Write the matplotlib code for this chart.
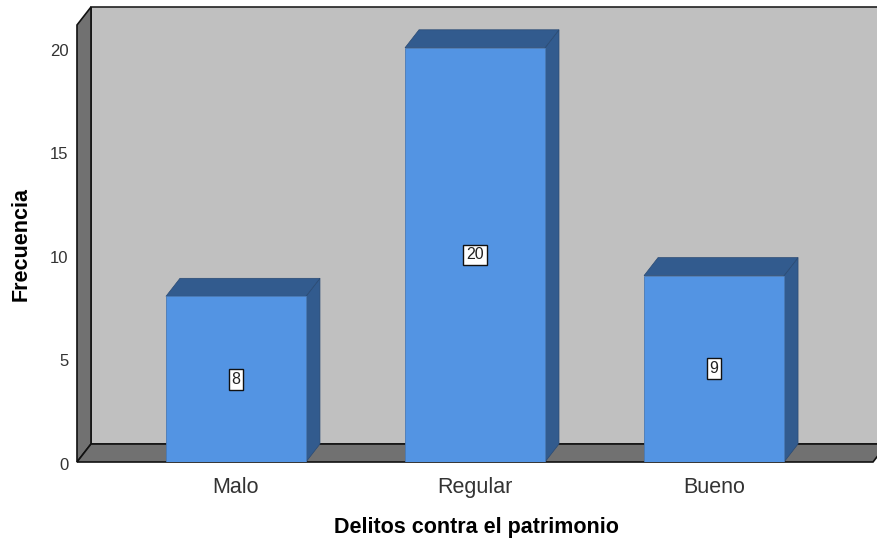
import matplotlib
matplotlib.use("Agg")
import matplotlib.pyplot as plt
from matplotlib.patches import Polygon
import matplotlib.transforms as mtransforms

categories = ["Malo", "Regular", "Bueno"]
values = [8, 20, 9]
yticks = [0, 5, 10, 15, 20]
xlabel = "Delitos contra el patrimonio"
ylabel = "Frecuencia"

plt.rcParams['font.family'] = ['Liberation Sans', 'DejaVu Sans']

W, H = 877, 541
fig = plt.figure(figsize=(W / 100, H / 100), dpi=100)
# front plane of the 3D box in pixels
px_left, px_right, px_top, px_bottom = 77, 873, 25, 462
ax = fig.add_axes([px_left / W, (H - px_bottom) / H,
                   (px_right - px_left) / W, (px_bottom - px_top) / H])
x0, x1 = -0.665, 2.665
ymax = 21.1
ax.set_xlim(x0, x1)
ax.set_ylim(0, ymax)

px_per_x = (px_right - px_left) / (x1 - x0)
px_per_y = (px_bottom - px_top) / ymax
dx = 14 / px_per_x
dy = 18 / px_per_y

wall = "#c0c0c0"
dark = "#717171"
front = "#5394e3"
shade = "#325b8e"

# back wall
ax.add_patch(Polygon([(x0 + dx, dy), (x1 + dx, dy), (x1 + dx, ymax + dy), (x0 + dx, ymax + dy)],
                     closed=True, facecolor=wall, edgecolor="#222222", lw=1.2, clip_on=False, zorder=1))
# left wall
ax.add_patch(Polygon([(x0, 0), (x0, ymax), (x0 + dx, ymax + dy), (x0 + dx, dy)],
                     closed=True, facecolor=dark, edgecolor="#111111", lw=1.2, clip_on=False, zorder=2))
# floor
ax.add_patch(Polygon([(x0, 0), (x1, 0), (x1 + dx, dy), (x0 + dx, dy)],
                     closed=True, facecolor=dark, edgecolor="#111111", lw=1.2, clip_on=False, zorder=2))

bw = 140 / px_per_x
for i, v in enumerate(values):
    l, r = i - bw / 2, i + bw / 2
    # side
    ax.add_patch(Polygon([(r, 0), (r + dx, dy), (r + dx, v + dy), (r, v)],
                         closed=True, facecolor=shade, edgecolor="#2a4a73", lw=0.5, clip_on=False, zorder=3))
    # top
    ax.add_patch(Polygon([(l, v), (r, v), (r + dx, v + dy), (l + dx, v + dy)],
                         closed=True, facecolor=shade, edgecolor="#2a4a73", lw=0.5, clip_on=False, zorder=3))
    # front
    ax.bar(i, v, width=bw, color=front, edgecolor="#4a7ab5", lw=0.6, zorder=4)
    ax.text(i, v / 2, str(v), ha="center", va="center", fontsize=11.5, color="#222222", zorder=5,
            bbox=dict(boxstyle="square,pad=0.18", facecolor="white", edgecolor="#111111", lw=1.0))

for s in ax.spines.values():
    s.set_visible(False)
ax.set_facecolor("none")
ax.set_yticks(yticks)
ax.set_yticklabels([str(t) for t in yticks], fontsize=12, color="#333333")
ax.set_xticks(range(len(categories)))
ax.set_xticklabels(categories, fontsize=15.5, color="#333333")
ax.tick_params(axis="y", length=0, pad=6)
ax.tick_params(axis="x", length=0, pad=11)
offset = mtransforms.ScaledTranslation(0, -2 / 100, fig.dpi_scale_trans)
for lab in ax.get_yticklabels():
    lab.set_transform(lab.get_transform() + offset)

fig.text(476 / W, 1 - 527 / H, xlabel, ha="center", va="center", fontsize=15.5, fontweight="bold")
fig.text(21 / W, 1 - 244 / H, ylabel, ha="center", va="center", rotation=90, fontsize=15.5, fontweight="bold")

fig.savefig("out.png", dpi=100, facecolor="white")
